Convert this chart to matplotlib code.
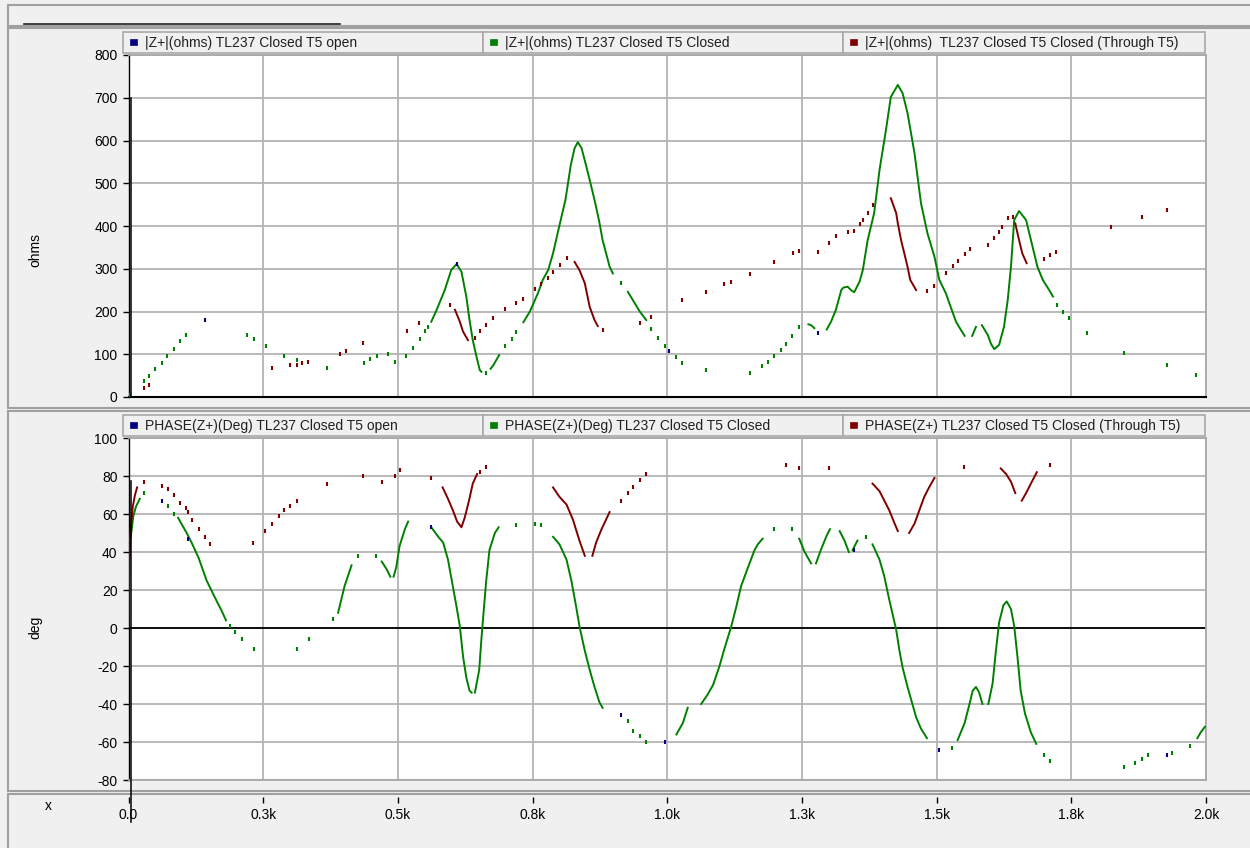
import numpy as np
import matplotlib
matplotlib.use("Agg")
import matplotlib.pyplot as plt
from matplotlib.patches import Rectangle
from matplotlib.lines import Line2D

plt.rcParams['font.family'] = ['Liberation Sans', 'DejaVu Sans']

# frequency scan results (Hz vs ohms / degrees)
# isolated samples are "dots", continuous stretches are "runs"

# |Z+| TL237 Closed T5 Closed
zc_dots = [(3, 5), (28, 37), (38, 48), (50, 65), (62, 80), (72, 95), (84, 113), (96, 132), (106, 144),
           (220, 144), (233, 135), (255, 119), (288, 97), (312, 86), (369, 67), (437, 80), (449, 88),
           (461, 97), (482, 101), (494, 83), (516, 95), (528, 114), (541, 136), (550, 155), (556, 164),
           (664, 55), (698, 119), (711, 136), (720, 153), (915, 266), (970, 158), (983, 137), (995, 119),
           (1017, 93), (1028, 79), (1072, 62), (1153, 55), (1176, 73), (1187, 83), (1198, 95), (1211, 110),
           (1221, 125), (1232, 143), (1245, 163), (1724, 215), (1735, 200), (1745, 185), (1779, 150),
           (1848, 103), (1928, 75), (1982, 51)]
zc_runs = [
    [(562, 176), (572, 204), (587, 250), (599, 297), (609, 311), (618, 293), (627, 235), (633, 180),
     (639, 133), (646, 94), (652, 63), (655, 59)],
    [(672, 66), (677, 74), (688, 98)],
    [(733, 175), (745, 200), (760, 243), (769, 274), (779, 297), (788, 336), (800, 402), (811, 461),
     (821, 543), (828, 582), (834, 596), (841, 582), (849, 543), (856, 508), (865, 461), (874, 409),
     (880, 367), (893, 305), (899, 289)],
    [(927, 246), (936, 227), (949, 200), (961, 180)],
    [(1262, 170), (1267, 168), (1273, 161)],
    [(1296, 158), (1304, 176), (1313, 204), (1323, 250), (1327, 256), (1335, 258), (1341, 250),
     (1347, 245), (1357, 270), (1363, 297), (1372, 367), (1384, 430), (1394, 531), (1406, 625),
     (1415, 702), (1428, 730), (1437, 710), (1446, 664), (1459, 570), (1471, 453), (1483, 383),
     (1496, 328), (1505, 274), (1517, 243), (1526, 211), (1536, 176), (1545, 157), (1552, 143)],
    [(1566, 143), (1573, 164)],
    [(1584, 168), (1595, 145), (1601, 124), (1607, 112), (1616, 122), (1625, 164), (1632, 227),
     (1638, 305), (1644, 414), (1653, 435), (1666, 414), (1678, 352), (1687, 305), (1697, 274),
     (1709, 250), (1716, 235)],
]

# |Z+| TL237 Closed T5 open (only where it separates from the closed case)
zo_dots = [(142, 181), (609, 311), (1004, 108), (1279, 149)]

# |Z+| TL237 Closed T5 Closed (Through T5)
zt_dots = [(28, 22), (38, 27), (266, 67), (300, 74), (312, 76), (322, 80), (334, 83), (392, 101),
           (403, 108), (436, 126), (517, 154), (539, 172), (596, 215), (643, 137), (652, 154), (664, 168),
           (677, 184), (698, 205), (720, 221), (732, 229), (754, 252), (766, 264), (779, 279), (788, 293),
           (800, 309), (813, 324), (881, 157), (949, 172), (970, 186), (1028, 227), (1072, 245),
           (1106, 264), (1119, 269), (1153, 288), (1199, 315), (1233, 336), (1245, 342), (1279, 340),
           (1301, 361), (1313, 377), (1335, 386), (1347, 389), (1357, 404), (1363, 414), (1372, 430),
           (1381, 449), (1483, 248), (1496, 260), (1517, 291), (1530, 306), (1539, 318), (1552, 334),
           (1562, 346), (1596, 356), (1607, 371), (1615, 385), (1621, 398), (1632, 418), (1641, 422),
           (1700, 322), (1711, 331), (1722, 340), (1824, 398), (1881, 422), (1928, 437)]
zt_runs = [
    [(606, 204), (615, 176), (621, 153), (630, 133)],
    [(828, 316), (837, 297), (847, 266), (856, 211), (865, 180), (871, 166)],
    [(1415, 465), (1425, 430), (1428, 406), (1434, 367), (1440, 336), (1446, 305), (1451, 274),
     (1462, 250)],
    [(1646, 406), (1653, 367), (1659, 336), (1667, 313)],
]

# PHASE(Z+) TL237 Closed T5 Closed
pc_dots = [(28, 71), (73, 64), (84, 60), (188, 1), (198, -2), (211, -6), (233, -11), (313, -11),
           (335, -6), (380, 5), (426, 38), (460, 38), (720, 54), (754, 55), (766, 54), (927, -49),
           (936, -54), (949, -57), (961, -60), (1199, 52), (1232, 52), (1369, 48), (1529, -63),
           (1700, -67), (1711, -70), (1848, -73), (1869, -71), (1882, -69), (1893, -67), (1936, -66),
           (1970, -62)]
pc_runs = [
    [(3, 46), (6, 52), (9, 59), (14, 64), (21, 68)],
    [(92, 58), (108, 50), (117, 45), (130, 37), (145, 25), (157, 18), (164, 14), (173, 9), (181, 4)],
    [(389, 8), (401, 22), (414, 33)],
    [(470, 35), (479, 31), (486, 27)],
    [(492, 27), (497, 32), (503, 43), (513, 52), (519, 56)],
    [(562, 53), (575, 48), (584, 45), (593, 36), (602, 22), (609, 11), (615, 1), (621, -15),
     (627, -26), (633, -33), (637, -34)],
    [(643, -34), (651, -22), (655, -6), (659, 8), (664, 25), (670, 41), (680, 50), (687, 53)],
    [(788, 48), (800, 44), (813, 36), (822, 25), (831, 11), (837, 1), (847, -12), (856, -22),
     (865, -31), (874, -39), (880, -42)],
    [(1017, -56), (1029, -50), (1038, -42)],
    [(1063, -40), (1075, -35), (1085, -30), (1097, -20), (1106, -11), (1119, 1), (1128, 11),
     (1137, 22), (1150, 32), (1162, 41), (1168, 44), (1177, 47)],
    [(1245, 47), (1255, 40), (1267, 34)],
    [(1276, 34), (1285, 41), (1295, 48), (1302, 52)],
    [(1320, 51), (1329, 46), (1337, 40)],
    [(1344, 41), (1353, 46)],
    [(1381, 44), (1394, 36), (1403, 27), (1412, 15), (1425, -1), (1431, -12), (1437, -21),
     (1446, -31), (1452, -37), (1462, -47), (1471, -53), (1482, -58)],
    [(1539, -59), (1552, -50), (1561, -40), (1567, -33), (1573, -31), (1579, -34), (1585, -40)],
    [(1596, -40), (1604, -29), (1610, -12), (1616, 3), (1624, 12), (1630, 14), (1638, 10),
     (1644, 1), (1650, -15), (1656, -33), (1664, -45), (1675, -55), (1685, -61)],
    [(1984, -58), (1990, -55), (1998, -52)],
]

# PHASE(Z+) TL237 Closed T5 open
po_dots = [(62, 67), (110, 47), (562, 53), (915, -46), (995, -60), (1347, 41), (1505, -64), (1927, -67)]

# PHASE(Z+) TL237 Closed T5 Closed (Through T5)
pt_dots = [(28, 77), (62, 75), (73, 73), (84, 70), (96, 66), (107, 63), (110, 61), (118, 57),
           (130, 52), (142, 48), (152, 44), (232, 45), (254, 51), (266, 55), (279, 59), (288, 62),
           (300, 64), (312, 67), (368, 76), (436, 80), (470, 77), (494, 80), (504, 83), (562, 79),
           (653, 82), (664, 85), (915, 67), (927, 71), (937, 74), (949, 78), (961, 81), (1221, 86),
           (1245, 84), (1301, 84), (1550, 85), (1711, 86)]
pt_runs = [
    [(0, 1), (1.5, 34), (4, 52), (8, 64), (12, 70), (16, 74)],
    [(583, 74), (593, 68), (602, 62), (610, 56), (618, 53), (624, 58), (632, 67), (639, 76), (647, 81)],
    [(788, 74), (800, 69), (813, 65), (825, 57), (837, 46), (847, 38)],
    [(861, 38), (868, 45), (878, 52), (893, 61)],
    [(1381, 76), (1394, 72), (1403, 67), (1412, 62), (1422, 55), (1428, 51)],
    [(1449, 50), (1459, 55), (1468, 62), (1477, 69), (1486, 74), (1496, 79)],
    [(1619, 84), (1629, 81), (1638, 77), (1646, 71)],
    [(1658, 67), (1666, 71), (1675, 76), (1686, 82)],
]

x_ticks = [0, 250, 500, 750, 1000, 1250, 1500, 1750, 2000]
x_labels = ["0.0", "0.3k", "0.5k", "0.8k", "1.0k", "1.3k", "1.5k", "1.8k", "2.0k"]
mag_ticks = list(range(0, 801, 100))
ph_ticks = list(range(-80, 101, 20))

top_legend = ["|Z+|(ohms) TL237 Closed T5 open",
              "|Z+|(ohms) TL237 Closed T5 Closed",
              "|Z+|(ohms)  TL237 Closed T5 Closed (Through T5)"]
bot_legend = ["PHASE(Z+)(Deg) TL237 Closed T5 open",
              "PHASE(Z+)(Deg) TL237 Closed T5 Closed",
              "PHASE(Z+) TL237 Closed T5 Closed (Through T5)"]
colors = ["#000080", "#008000", "#800000"]

W, H = 1250, 848
fig = plt.figure(figsize=(W / 100, H / 100), dpi=100)
fig.patch.set_facecolor("#f0f0f0")


def box(x0, y0, x1, y1, fc="#f0f0f0", ec="#a0a0a0", lw=1.5, z=-5):
    fig.patches.append(Rectangle((x0 / W, 1 - y1 / H), (x1 - x0) / W, (y1 - y0) / H,
                                 transform=fig.transFigure, fc=fc, ec=ec, lw=lw, zorder=z))


# window frames
box(8, 5, 1252, 26)
fig.lines.append(Line2D([24 / W, 340 / W], [1 - 24 / H] * 2, transform=fig.transFigure,
                        color="#202020", lw=1.2))
box(8, 28, 1252, 408)
box(8, 411, 1252, 791)
box(8, 794, 1252, 852)

ax1 = fig.add_axes([128.5 / W, 1 - 397 / H, 1077.5 / W, 342 / H])
ax2 = fig.add_axes([128.5 / W, 1 - 780 / H, 1077.5 / W, 342 / H])
ax3 = fig.add_axes([128.5 / W, 1 - 797 / H, 1077.5 / W, 0.5 / H])

for ax, yt, yl in [(ax1, mag_ticks, (0, 800)), (ax2, ph_ticks, (-80, 100))]:
    ax.set_facecolor("white")
    ax.set_xlim(0, 2000)
    ax.set_ylim(*yl)
    ax.set_xticks(x_ticks)
    ax.set_yticks(yt)
    ax.set_yticklabels([str(v) for v in yt])
    ax.tick_params(axis="x", length=0, labelbottom=False)
    ax.tick_params(axis="y", direction="out", length=4, width=1, color="black",
                   labelsize=10, pad=4)
    ax.grid(True, color="#b4b4b4", lw=1.3)
    ax.set_axisbelow(True)
    for s in ["top", "right", "bottom"]:
        ax.spines[s].set_color("#a8a8a8")
        ax.spines[s].set_linewidth(1.3)
    ax.spines["left"].set_color("black")
    ax.spines["left"].set_linewidth(1.0)

ax1.spines["bottom"].set_color("black")
ax1.spines["bottom"].set_linewidth(1.5)
ax2.axhline(0, color="black", lw=1.3, zorder=1.5)

ax3.set_xlim(0, 2000)
ax3.set_xticks(x_ticks)
ax3.set_xticklabels(x_labels)
ax3.set_yticks([])
for s in ax3.spines.values():
    s.set_visible(False)
ax3.patch.set_alpha(0)
ax3.tick_params(axis="x", direction="out", length=4, width=1, color="black", labelsize=10, pad=4)


def draw(ax, dots, runs, color):
    for run in runs:
        f, v = zip(*run)
        ax.plot(f, v, color=color, lw=1.4, solid_joinstyle="round", zorder=3)
    if dots:
        f, v = zip(*dots)
        ax.plot(f, v, ls="none", marker="|", ms=2.6, mew=1.5, color=color, zorder=3)


draw(ax1, zc_dots, zc_runs, colors[1])
draw(ax1, zo_dots, [], colors[0])
draw(ax1, zt_dots, zt_runs, colors[2])
draw(ax2, pc_dots, pc_runs, colors[1])
draw(ax2, po_dots, [], colors[0])
draw(ax2, pt_dots, pt_runs, colors[2])

# marker line near 0 Hz
ax1.plot([5, 5], [0, 700], color="black", lw=1.1, zorder=4)
ax2.plot([5, 5], [77.5, -102], color="black", lw=1.1, zorder=4, clip_on=False)

# legend strips above each plot
lefts = [123, 483, 843]
rights = [483, 843, 1205]
for y0, labels in [(32, top_legend), (415, bot_legend)]:
    for x0, x1, lab, c in zip(lefts, rights, labels, colors):
        box(x0, y0, x1, y0 + 21, fc="#f0f0f0", ec="#a8a8a8", lw=1.2, z=1)
        box(x0 + 7, y0 + 7, x0 + 14, y0 + 13, fc=c, ec=c, lw=0.5, z=2)
        fig.text((x0 + 22) / W, 1 - (y0 + 11) / H, lab, fontsize=10, ha="left", va="center",
                 color="#202020")

fig.text(35 / W, 1 - 250 / H, "ohms", rotation=90, ha="center", va="center", fontsize=10)
fig.text(35 / W, 1 - 627 / H, "deg", rotation=90, ha="center", va="center", fontsize=10)
fig.text(48 / W, 1 - 806 / H, "x", ha="center", va="center", fontsize=10)

fig.savefig("out.png", dpi=100, facecolor=fig.get_facecolor())
